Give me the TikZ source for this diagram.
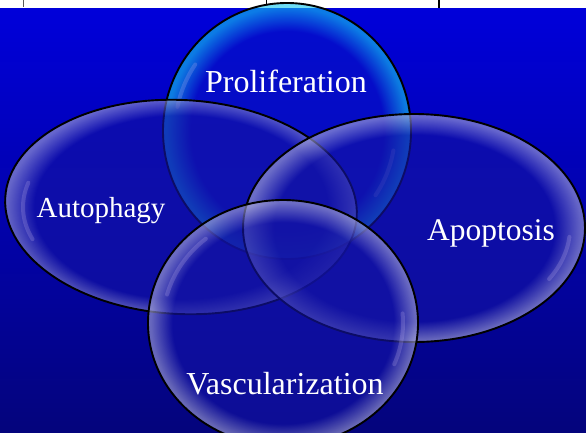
\documentclass[tikz,border=0pt]{standalone}
\usepackage{fontspec}
\setmainfont{Liberation Serif}
\definecolor{bgtop}{RGB}{0,0,218}
\definecolor{bgbot}{RGB}{4,4,124}
\definecolor{inC}{RGB}{8,20,200}
\definecolor{outC}{RGB}{20,200,240}
\definecolor{inL}{RGB}{20,20,165}
\definecolor{outL}{RGB}{165,165,215}
\definecolor{hl}{RGB}{200,185,240}
\pgfdeclareradialshading{bubbleC}{\pgfpoint{0bp}{0bp}}{color(0bp)=(inC); color(19.5bp)=(inC); color(24.3bp)=(outC); color(25bp)=(outC); color(50bp)=(outC)}
\pgfdeclareradialshading{bubbleL}{\pgfpoint{0bp}{0bp}}{color(0bp)=(inL); color(20.5bp)=(inL); color(24.5bp)=(outL); color(25bp)=(outL); color(50bp)=(outL)}
\tikzset{
  bubble/.style={shading=#1, fill opacity=0.62},
  rim/.style={draw=black, line width=1.9pt},
  shine/.style={draw=hl, line width=4pt, line cap=round, draw opacity=0.22},
  lbl/.style={text=white, inner sep=0pt, anchor=base},
}
\begin{document}
\begin{tikzpicture}[x=1pt,y=-1pt]
\useasboundingbox (0,0) rectangle (586,432);
% top white strip with table edges
\fill[white] (0,0) rectangle (586,8);
\coordinate (t1a) at (23,0); \coordinate (t1b) at (23,7);
\coordinate (t2a) at (266,0); \coordinate (t2b) at (266,4);
\coordinate (t3a) at (439,0); \coordinate (t3b) at (439,8);
\draw[gray!70!black, line width=0.8pt] (t1a) -- (t1b);
\draw[black, line width=0.8pt] (t2a) -- (t2b);
\draw[black, line width=1.4pt] (t3a) -- (t3b);
% background
\shade[top color=bgtop, bottom color=bgbot] (0,8) rectangle (586,432);
% bubbles
\coordinate (cP) at (287,131);
\coordinate (cA) at (181,207);
\coordinate (cO) at (414,228);
\coordinate (cV) at (283,323);
\shade[bubble=bubbleC] (cP) ellipse [x radius=124, y radius=128];
\draw[shine] (cP) ++(192:112 and 116) arc[start angle=192, end angle=215, x radius=112, y radius=116];
\draw[shine] (cP) ++(10:108 and 112) arc[start angle=10, end angle=35, x radius=108, y radius=112];
\draw[rim] (cP) ellipse [x radius=124, y radius=128];
\shade[bubble=bubbleL, rotate around={-3:(cA)}] (cA) ellipse [x radius=176, y radius=107];
\draw[shine] (cA) ++(160:158 and 94) arc[start angle=160, end angle=195, x radius=158, y radius=94];
\draw[rim, rotate around={-3:(cA)}] (cA) ellipse [x radius=176, y radius=107];
\shade[bubble=bubbleL] (cO) ellipse [x radius=171, y radius=114];
\draw[shine] (cO) ++(5:156 and 102) arc[start angle=5, end angle=30, x radius=156, y radius=102];
\draw[rim] (cO) ellipse [x radius=171, y radius=114];
\shade[bubble=bubbleL] (cV) ellipse [x radius=135, y radius=123];
\draw[shine] (cV) ++(195:120 and 110) arc[start angle=195, end angle=230, x radius=120, y radius=110];
\draw[shine] (cV) ++(-5:120 and 110) arc[start angle=-5, end angle=22, x radius=120, y radius=110];
\draw[rim] (cV) ellipse [x radius=135, y radius=123];
% labels
\node[lbl, font=\fontsize{32}{36}\selectfont] (tP) at (286,92) {Proliferation};
\node[lbl, font=\fontsize{29}{33}\selectfont] (tA) at (101,217) {Autophagy};
\node[lbl, font=\fontsize{31.5}{35}\selectfont] (tO) at (491,240) {Apoptosis};
\node[lbl, font=\fontsize{32}{36}\selectfont] (tV) at (285,394) {Vascularization};
\end{tikzpicture}
\end{document}
